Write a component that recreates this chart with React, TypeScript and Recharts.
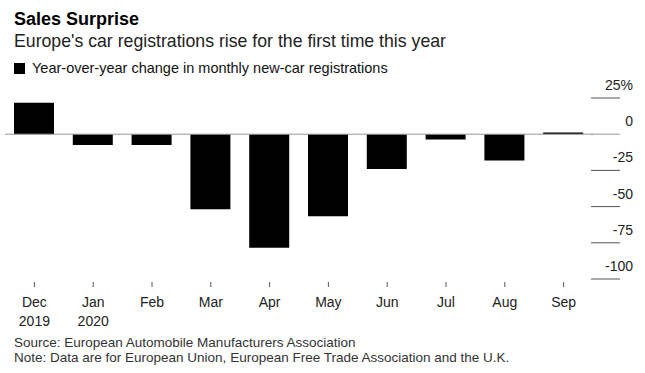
import { BarChart, Bar, XAxis, YAxis, ReferenceLine } from "recharts";

const months = ["Dec", "Jan", "Feb", "Mar", "Apr", "May", "Jun", "Jul", "Aug", "Sep"];
const years = ["2019", "2020", "", "", "", "", "", "", "", ""];
const yoyChange = [21.7, -7.4, -7.4, -51.8, -78.5, -56.7, -24.1, -3.7, -18.1, 1.1];
const yTicks = [25, 0, -25, -50, -75, -100];

const data = months.map((m, i) => ({ month: m, year: years[i], value: yoyChange[i] }));

const FONT = "'Liberation Sans', Arial, sans-serif";

const MonthTick = (props: any) => {
  const { x, y, payload, index } = props;
  return (
    <g>
      <line x1={x} x2={x} y1={y + 1} y2={y + 6} stroke="#555" strokeWidth={1} />
      <text x={x} y={y + 26} textAnchor="middle" fontSize={14} fill="#222" fontFamily={FONT}>
        {payload.value}
      </text>
      {years[index] && (
        <text x={x} y={y + 44.5} textAnchor="middle" fontSize={14} fill="#222" fontFamily={FONT}>
          {years[index]}
        </text>
      )}
    </g>
  );
};

const ValueTick = (props: any) => {
  const { x, y, payload } = props;
  const label = payload.value === 25 ? "25%" : String(payload.value);
  return (
    <g>
      <line x1={x - 2} x2={x + 27} y1={y} y2={y} stroke={payload.value === 0 ? "#999" : "#555"} strokeWidth={1} />
      <text x={x + 40} y={y - 8} textAnchor="end" fontSize={14} fill="#222" fontFamily={FONT}>
        {label}
      </text>
    </g>
  );
};

export default function App() {
  return (
    <div style={{ position: "relative", width: 645, height: 373, background: "#fff", fontFamily: FONT }}>
      <style>{"body{margin:0}"}</style>
      <div style={{ position: "absolute", left: 14, top: 9, fontSize: 18, fontWeight: 700, color: "#000", lineHeight: "20px" }}>
        Sales Surprise
      </div>
      <div style={{ position: "absolute", left: 14, top: 31, fontSize: 17.7, color: "#222", lineHeight: "20px" }}>
        Europe's car registrations rise for the first time this year
      </div>
      <div style={{ position: "absolute", left: 14, top: 59, fontSize: 14.5, color: "#111", lineHeight: "18px", display: "flex", alignItems: "center" }}>
        <span style={{ display: "inline-block", width: 11, height: 11, background: "#000", marginRight: 7 }} />
        Year-over-year change in monthly new-car registrations
      </div>
      <div style={{ position: "absolute", left: 0, top: 0 }}>
        <BarChart
          width={645}
          height={373}
          data={data}
          margin={{ top: 98, right: 0, bottom: 54, left: 5 }}
          barSize={40}
        >
          <XAxis
            dataKey="month"
            axisLine={false}
            tickLine={false}
            tickSize={0}
            interval={0}
            height={40}
            tick={<MonthTick />}
          />
          <YAxis
            orientation="right"
            domain={[-100, 25]}
            ticks={yTicks}
            axisLine={false}
            tickLine={false}
            tickSize={0}
            tickMargin={0}
            width={52}
            interval={0}
            tick={<ValueTick />}
          />
          <Bar dataKey="value" fill="#000" isAnimationActive={false} />
          <ReferenceLine y={0} stroke="#999" strokeWidth={1} />
        </BarChart>
      </div>
      <div style={{ position: "absolute", left: 14, top: 335, fontSize: 13.5, color: "#333", lineHeight: "15px" }}>
        Source: European Automobile Manufacturers Association
        <br />
        Note: Data are for European Union, European Free Trade Association and the U.K.
      </div>
    </div>
  );
}
